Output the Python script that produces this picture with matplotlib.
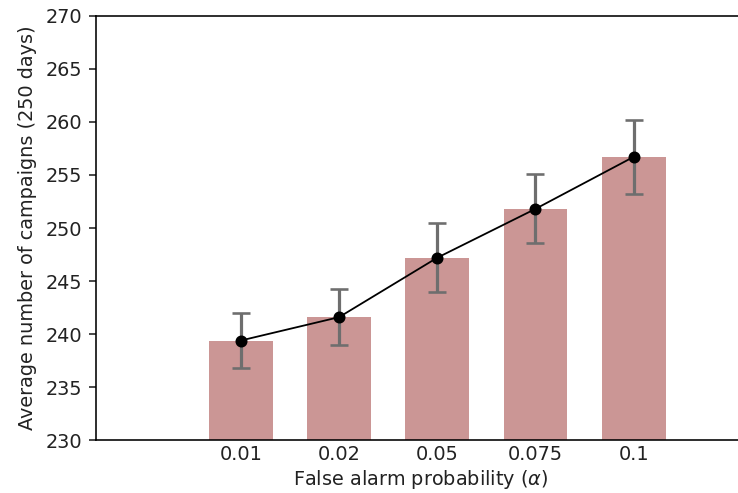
import numpy as np
import matplotlib
matplotlib.use("Agg")
import matplotlib.pyplot as plt

# False alarm probability levels and campaign counts (mean +/- std over runs)
alpha_labels = ["0.01", "0.02", "0.05", "0.075", "0.1"]
mean_campaigns = [239.4, 241.6, 247.2, 251.8, 256.7]
std_campaigns = [2.6, 2.65, 3.25, 3.25, 3.5]

plt.rcParams["font.size"] = 9.6
plt.rcParams["text.color"] = "#222222"
plt.rcParams["axes.labelcolor"] = "#222222"
plt.rcParams["xtick.color"] = "#222222"
plt.rcParams["ytick.color"] = "#222222"

DPI = 144
fig = plt.figure(figsize=(738 / DPI, 493 / DPI), dpi=DPI)
ax = fig.add_axes([96 / 738, (493 - 440.3) / 493, (745 - 96) / 738, (440.3 - 15.7) / 493])

x = np.arange(1, len(alpha_labels) + 1)

ax.bar(x, mean_campaigns, width=0.65, color="#cb9695", zorder=1)
ax.errorbar(x, mean_campaigns, yerr=std_campaigns, fmt="none",
            ecolor="#6e6e6e", elinewidth=1.6, capsize=4.3, capthick=1.3, zorder=2)
ax.plot(x, mean_campaigns, color="black", linewidth=0.9, marker="o",
        markersize=5, zorder=3)

ax.set_ylim(230, 270)
ax.set_yticks(np.arange(230, 271, 5))
ax.set_xlim(-0.475, 6.134)
ax.set_xticks(x)
ax.set_xticklabels(alpha_labels)
ax.tick_params(axis="x", length=0, pad=2.5)

ax.set_xlabel(r"False alarm probability ($\alpha$)", labelpad=2)
ax.set_ylabel("Average number of campaigns (250 days)")

fig.savefig("out.png", dpi=DPI)
